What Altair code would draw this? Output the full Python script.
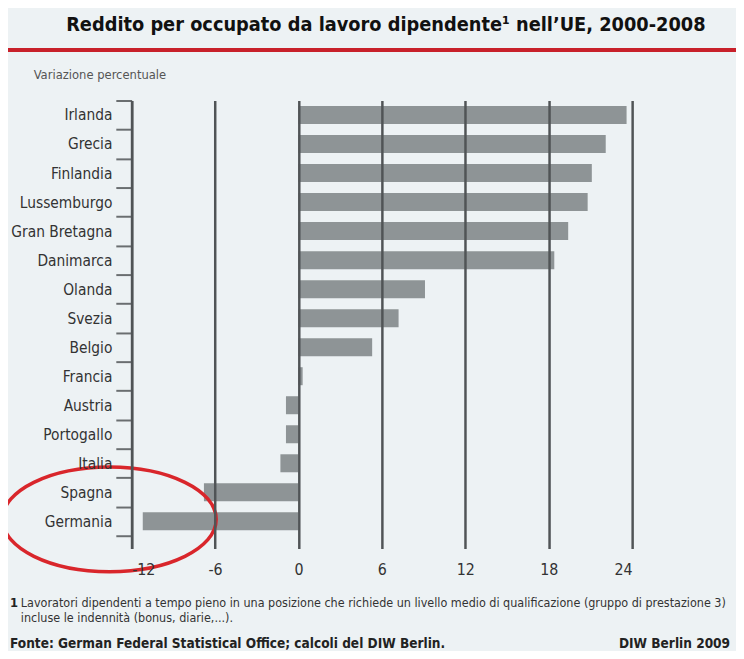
import altair as alt
import pandas as pd

countries = ["Irlanda", "Grecia", "Finlandia", "Lussemburgo", "Gran Bretagna", "Danimarca",
             "Olanda", "Svezia", "Belgio", "Francia", "Austria", "Portogallo", "Italia",
             "Spagna", "Germania"]
values = [23.6, 22.1, 21.1, 20.8, 19.4, 18.4, 9.1, 7.2, 5.3, 0.3, -0.9, -0.9, -1.3, -6.8, -11.2]
x_ticks = [-12, -6, 0, 6, 12, 18, 24]

title_text = "Reddito per occupato da lavoro dipendente\u00b9 nell\u2019UE, 2000-2008"
unit_text = "Variazione percentuale"
note_num = "1"
note_line1 = "Lavoratori dipendenti a tempo pieno in una posizione che richiede un livello medio di qualificazione (gruppo di prestazione 3)"
note_line2 = "incluse le indennit\u00e0 (bonus, diarie,...)."
source_text = "Fonte: German Federal Statistical Office; calcoli del DIW Berlin."
credit_text = "DIW Berlin 2009"

# highlight annotation (around Spagna / Germania)
highlight_country = ["Germania"]
highlight_x = [-13.6]

FONT = "DejaVu Sans Condensed"
BG = "#edf2f4"
GRID = "#505456"

df = pd.DataFrame({"country": countries, "value": values})
hl = pd.DataFrame({"country": highlight_country, "x": highlight_x})

yscale = alt.Scale(domain=countries, paddingInner=0, paddingOuter=0.22, align=0)
xscale = alt.Scale(domain=[-12, 24], nice=False, zero=False)

bars = alt.Chart(df).mark_bar(color="#8e9496", height={"band": 0.62}).encode(
    x=alt.X("value:Q", scale=xscale,
            axis=alt.Axis(values=x_ticks, grid=True, gridColor=GRID, gridWidth=2.5,
                          domain=False, ticks=False, labelPadding=13, labelFontSize=16,
                          labelExpr="'' + datum.value",
                          labelFont=FONT, labelColor="#333333", title=None, zindex=1)),
    y=alt.Y("country:N", scale=yscale, sort=countries,
            axis=alt.Axis(title=None, domainColor=GRID, domainWidth=2.5, tickColor="#6a6e70",
                          tickWidth=2, tickSize=16, tickBand="extent", labelPadding=4,
                          labelFontSize=15.5, labelFont=FONT, labelColor="#333333",
                          grid=False, zindex=1)),
)

ellipse = alt.Chart(hl).mark_point(
    shape="M -1 0 A 1 0.49 0 1 1 1 0 A 1 0.49 0 1 1 -1 0",
    size=46656, filled=False, stroke="#d9262b", strokeWidth=3.5, opacity=1, yOffset=-2,
).encode(
    x=alt.X("x:Q", scale=xscale),
    y=alt.Y("country:N", scale=yscale, sort=countries),
)

def text_layer(txt, x, y, size, weight="normal", color="#222222", align="left", font=FONT):
    return alt.Chart(pd.DataFrame({"t": [txt]})).mark_text(
        align=align, baseline="middle", fontSize=size, fontWeight=weight, color=color, font=font
    ).encode(x=alt.value(x), y=alt.value(y), text="t:N")

# page coords -> plot coords: x - 133, y - 98
title = text_layer(title_text, 390 - 133, 22 - 98, 20, weight="bold", color="#111111", align="center")
red_line = alt.Chart(pd.DataFrame({"a": [0]})).mark_rule(color="#c8202a", strokeWidth=4).encode(
    x=alt.value(-125), x2=alt.value(611), y=alt.value(47 - 98)
)
unit = text_layer(unit_text, 34 - 133, 72 - 98, 13, color="#555555")
n1 = text_layer(note_num, 10 - 133, 606 - 98, 13, weight="bold", color="#222222")
l1 = text_layer(note_line1, 21 - 133, 606 - 98, 12.6, color="#333333")
l2 = text_layer(note_line2, 21 - 133, 621 - 98, 12.6, color="#333333")
src = text_layer(source_text, 10 - 133, 647 - 98, 13.7, weight="bold", color="#222222")
cred = text_layer(credit_text, 738 - 133, 647 - 98, 13.7, weight="bold", color="#222222", align="right")

chart = alt.layer(bars, ellipse, red_line, title, unit, n1, l1, l2, src, cred).properties(
    width=506, height=453,
    autosize=alt.AutoSizeParams(type="none"),
    padding={"left": 125, "top": 90, "right": 105, "bottom": 100},
    background=BG,
).configure_view(stroke=None, fill=BG)

chart.save("out.html", embed_options={"renderer": "svg", "actions": False})
